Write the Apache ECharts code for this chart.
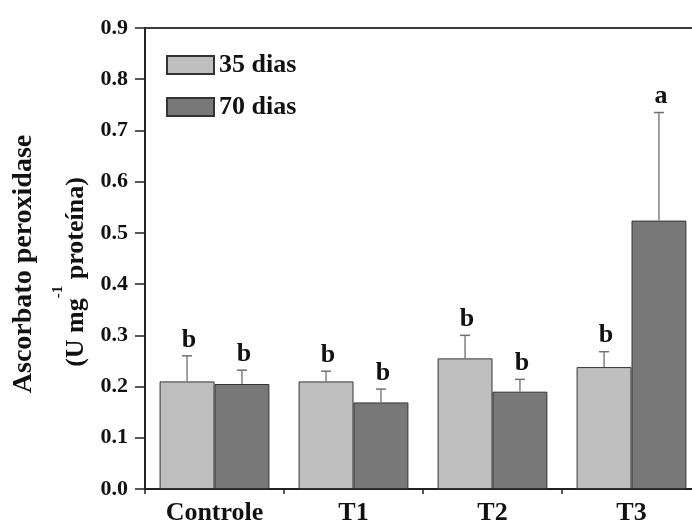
<!DOCTYPE html>
<html>
<head>
<meta charset="utf-8">
<script src="https://cdn.jsdelivr.net/npm/echarts@6/dist/echarts.min.js"></script>
<style>
html, body { margin: 0; padding: 0; background: #fff; }
#content { width: 692px; height: 522px; }
</style>
</head>
<body>
<div id="content"></div>
<script>
var categories = ['Controle', 'T1', 'T2', 'T3'];
var dias35 = [0.210, 0.210, 0.255, 0.238];
var dias70 = [0.205, 0.169, 0.190, 0.524];
// erro padrão (só a parte de cima aparece)
var err35 = [0.050, 0.020, 0.045, 0.030];
var err70 = [0.027, 0.026, 0.024, 0.211];
var letras35 = ['b', 'b', 'b', 'b'];
var letras70 = ['b', 'b', 'b', 'a'];
var yTicks = ['0.0', '0.1', '0.2', '0.3', '0.4', '0.5', '0.6', '0.7', '0.8', '0.9'];

var fonte = '"Liberation Serif", "Times New Roman", serif';
var catGap = 0.21;

var myChart = echarts.init(document.getElementById('content'));

function erroData(vals, errs, letras) {
    var out = [];
    for (var i = 0; i < vals.length; i++) {
        out.push([i, vals[i], errs[i], letras[i]]);
    }
    return out;
}

// desenha a barra de erro e a letra acima da barra
function makeRender(lado) {
    return function (params, api) {
        var i = api.value(0);
        var v = api.value(1);
        var e = api.value(2);
        var letra = (lado < 0 ? letras35 : letras70)[params.dataIndex];
        var band = api.size([1, 0])[0];
        var bw = band * (1 - catGap) / 2;
        var base = api.coord([i, v]);
        var topo = api.coord([i, v + e]);
        var x = base[0] + lado * bw / 2;
        return {
            type: 'group',
            children: [
                {
                    type: 'line',
                    shape: { x1: x, y1: base[1], x2: x, y2: topo[1] },
                    style: { stroke: '#808080', lineWidth: 1.5 }
                },
                {
                    type: 'line',
                    shape: { x1: x - 5, y1: topo[1], x2: x + 5, y2: topo[1] },
                    style: { stroke: '#707070', lineWidth: 1.5 }
                },
                {
                    type: 'text',
                    x: x + 2,
                    y: topo[1] - 3,
                    style: {
                        text: letra,
                        fill: '#111',
                        font: 'bold 26px ' + fonte,
                        textAlign: 'center',
                        textVerticalAlign: 'bottom'
                    }
                }
            ]
        };
    };
}

var option = {
    backgroundColor: '#fff',
    animation: false,
    grid: {
        left: 145,
        top: 28,
        right: -9,
        bottom: 33,
        outerBoundsMode: 'none',
        containLabel: false
    },
    legend: {
        orient: 'vertical',
        left: 161,
        top: 47,
        itemWidth: 47,
        itemHeight: 18,
        itemGap: 16,
        icon: 'rect',
        data: ['35 dias', '70 dias'],
        textStyle: { fontFamily: fonte, fontWeight: 'bold', fontSize: 26, color: '#111' }
    },
    xAxis: [
        {
            type: 'category',
            data: categories,
            axisLine: { lineStyle: { color: '#222', width: 2 } },
            axisTick: { show: true, length: 5, lineStyle: { color: '#222', width: 1.5 } },
            axisLabel: {
                margin: 11,
                fontFamily: fonte, fontWeight: 'bold', fontSize: 26, color: '#111'
            }
        },
        {
            // só a linha de cima do quadro
            type: 'category',
            position: 'top',
            data: categories,
            axisLine: { show: true, lineStyle: { color: '#3a3a3a', width: 2 } },
            axisTick: { show: false },
            axisLabel: { show: false }
        }
    ],
    yAxis: {
        type: 'value',
        min: 0,
        max: 0.9,
        interval: 0.1,
        splitLine: { show: false },
        axisLine: { show: true, lineStyle: { color: '#222', width: 2 } },
        axisTick: { show: true, length: 10, lineStyle: { color: '#222', width: 1.5 } },
        axisLabel: {
            margin: 17,
            fontFamily: fonte, fontWeight: 'bold', fontSize: 22, color: '#111',
            formatter: function (v) { return yTicks[Math.round(v * 10)]; }
        }
    },
    graphic: [
        {
            type: 'text',
            x: 24,
            y: 264,
            rotation: Math.PI / 2,
            style: {
                text: 'Ascorbato peroxidase',
                font: 'bold 28px ' + fonte,
                fill: '#111',
                textAlign: 'center',
                textVerticalAlign: 'middle'
            }
        },
        {
            type: 'text',
            x: 70,
            y: 272,
            rotation: Math.PI / 2,
            style: {
                text: '{n|(U mg}{s|-1}{n| proteína)}',
                fill: '#111',
                textAlign: 'center',
                textVerticalAlign: 'middle',
                rich: {
                    n: { fontFamily: fonte, fontWeight: 'bold', fontSize: 26, lineHeight: 38, verticalAlign: 'bottom' },
                    s: { fontFamily: fonte, fontWeight: 'bold', fontSize: 15, lineHeight: 38, verticalAlign: 'top' }
                }
            }
        }
    ],
    series: [
        {
            name: '35 dias',
            type: 'bar',
            data: dias35,
            barGap: 0,
            barCategoryGap: (catGap * 100) + '%',
            itemStyle: { color: '#bfbfbf', borderColor: '#333', borderWidth: 1 }
        },
        {
            name: '70 dias',
            type: 'bar',
            data: dias70,
            barGap: 0,
            barCategoryGap: (catGap * 100) + '%',
            itemStyle: { color: '#787878', borderColor: '#333', borderWidth: 1 }
        },
        {
            type: 'custom',
            renderItem: makeRender(-1),
            data: erroData(dias35, err35, letras35),
            z: 5
        },
        {
            type: 'custom',
            renderItem: makeRender(1),
            data: erroData(dias70, err70, letras70),
            z: 5
        }
    ]
};

myChart.setOption(option);
</script>
</body>
</html>
